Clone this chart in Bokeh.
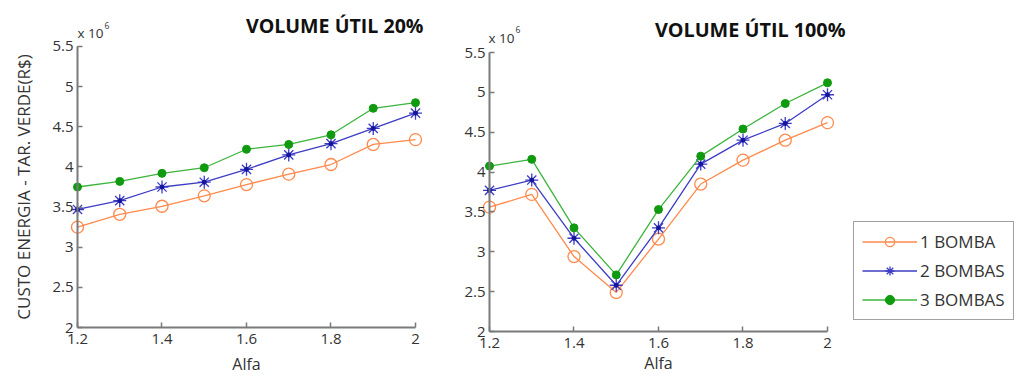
from bokeh.plotting import figure
from bokeh.layouts import row
from bokeh.models import Label, Legend, LegendItem, Range1d, FixedTicker
from bokeh.embed import file_html
from bokeh.resources import INLINE

alfa = [1.2, 1.3, 1.4, 1.5, 1.6, 1.7, 1.8, 1.9, 2.0]

# Volume útil 20% (x 10^6 R$)
v20_1 = [3.25, 3.41, 3.51, 3.64, 3.78, 3.91, 4.03, 4.28, 4.34]
v20_2 = [3.47, 3.58, 3.75, 3.81, 3.97, 4.15, 4.29, 4.48, 4.67]
v20_3 = [3.75, 3.82, 3.92, 3.99, 4.22, 4.28, 4.40, 4.73, 4.80]

# Volume útil 100% (x 10^6 R$)
v100_1 = [3.56, 3.72, 2.94, 2.49, 3.16, 3.85, 4.15, 4.40, 4.62]
v100_2 = [3.77, 3.90, 3.17, 2.58, 3.30, 4.10, 4.40, 4.61, 4.97]
v100_3 = [4.075, 4.16, 3.30, 2.71, 3.53, 4.20, 4.54, 4.86, 5.12]

series_names = ["1 BOMBA", "2 BOMBAS", "3 BOMBAS"]
titles = ["VOLUME ÚTIL 20%", "VOLUME ÚTIL 100%"]
x_ticks = [1.2, 1.4, 1.6, 1.8, 2.0]
y_ticks = [2, 2.5, 3, 3.5, 4, 4.5, 5, 5.5]

ORANGE = "#ff8a4c"
BLUE = "#3c3cc4"
BLUE_M = "#14149c"
GREEN = "#3cb43c"
GREEN_M = "#0f9a0f"
FONT = "Open Sans"
TXT = "#333333"
H = 374


def make_fig(width, xr, yr, data, title, t_size, t_off, e_off, ylabel, xl_standoff):
    p = figure(width=width, height=H, output_backend="svg", toolbar_location=None,
               x_range=Range1d(*xr), y_range=Range1d(*yr),
               min_border_left=0, min_border_right=0, min_border_top=0,
               min_border_bottom=0)
    p.outline_line_color = None
    p.grid.visible = False
    p.background_fill_color = "white"
    p.border_fill_color = "white"
    for ax in (p.xaxis[0], p.yaxis[0]):
        ax.axis_line_color = "#7a7a7a"
        ax.axis_line_width = 2
        ax.major_tick_line_color = "#7a7a7a"
        ax.major_tick_line_width = 1.5
        ax.major_tick_in = 5
        ax.major_tick_out = 0
        ax.minor_tick_line_color = None
        ax.major_label_text_font = FONT
        ax.major_label_text_font_size = "15px"
        ax.major_label_text_color = TXT
        ax.axis_label_text_font = FONT
        ax.axis_label_text_font_style = "normal"
        ax.axis_label_text_color = TXT
    p.xaxis.fixed_location = 2
    p.yaxis.fixed_location = 1.2
    p.xaxis.bounds = (1.2, 2.0)
    p.yaxis.bounds = (2, 5.5)
    p.xaxis.ticker = FixedTicker(ticks=x_ticks)
    p.yaxis.ticker = FixedTicker(ticks=y_ticks)
    p.xaxis.major_label_overrides = {2: "2"}
    p.yaxis.major_label_overrides = {2: "2", 3: "3", 4: "4", 5: "5"}
    p.xaxis.major_label_standoff = 6
    p.yaxis.major_label_standoff = 4
    p.xaxis.axis_label = "Alfa"
    p.xaxis.axis_label_text_font_size = "16px"
    p.xaxis.axis_label_standoff = xl_standoff
    if ylabel:
        p.yaxis.axis_label = ylabel
        p.yaxis.axis_label_text_font_size = "17px"
        p.yaxis.axis_label_standoff = 14

    d1, d2, d3 = data
    r1 = p.line(alfa, d1, line_color=ORANGE, line_width=1.3)
    m1 = p.scatter(alfa, d1, marker="circle", size=12, fill_color=None,
                   line_color=ORANGE, line_width=1.3)
    r2 = p.line(alfa, d2, line_color=BLUE, line_width=1.3)
    m2 = p.scatter(alfa, d2, marker="asterisk", size=13, line_color=BLUE, line_width=1.3)
    p.scatter(alfa, d2, marker="circle", size=4, fill_color=BLUE_M, line_color=BLUE_M)
    r3 = p.line(alfa, d3, line_color=GREEN, line_width=1.3)
    m3 = p.scatter(alfa, d3, marker="circle", size=8, fill_color=GREEN_M, line_color=GREEN_M)

    p.add_layout(Label(x=2.0, y=5.5, x_offset=t_off[0], y_offset=t_off[1], text=title,
                       text_font=FONT, text_font_style="bold", text_font_size=t_size,
                       text_align="right", text_baseline="middle", text_color="#111111"))
    p.add_layout(Label(x=1.2, y=5.5, x_offset=e_off[0], y_offset=e_off[1], text="x 10",
                       text_font=FONT, text_font_size="13.5px", text_color=TXT,
                       text_baseline="middle"))
    p.add_layout(Label(x=1.2, y=5.5, x_offset=e_off[0] + 27, y_offset=e_off[1] + 8,
                       text="6", text_font=FONT, text_font_size="8.5px", text_color=TXT,
                       text_baseline="middle"))
    return p, [(r1, m1), (r2, m2), (r3, m3)]


# left panel (x 0..432): 1.2 at 77, 2.0 at 415; 5.5 at y 46, 2 at y 327
p1, _ = make_fig(432, (1.01775, 2.04024), (1.4146, 6.0729), (v20_1, v20_2, v20_3),
                 titles[0], "19.6px", (8, 21), (0, 13), "CUSTO ENERGIA - TAR. VERDE(R$)", 6)
# right panel (x 432..1018): 1.2 at 489, 2.0 at 827; 5.5 at y 52, 2 at y 331
p2, rends = make_fig(586, (1.06509, 2.45207), (1.4606, 6.1524), (v100_1, v100_2, v100_3),
                     titles[1], "19.8px", (18, 23), (-1, 15), None, 1)

legend = Legend(items=[LegendItem(label=series_names[i], renderers=list(rends[i]))
                       for i in range(3)],
                location=(421, 54))
legend.label_text_font = FONT
legend.label_text_font_size = "17px"
legend.label_text_color = TXT
legend.border_line_color = "#444444"
legend.border_line_width = 1.5
legend.glyph_width = 55
legend.glyph_height = 23
legend.spacing = 6
legend.padding = 8
legend.margin = 0
legend.label_standoff = 3
legend.background_fill_alpha = 1
p2.add_layout(legend, "center")

layout = row(p1, p2)
open("out.html", "w").write(file_html(layout, INLINE))
